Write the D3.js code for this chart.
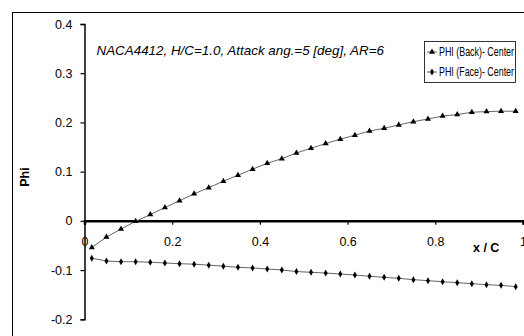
<!DOCTYPE html>
<html><head><meta charset="utf-8">
<script src="https://cdn.jsdelivr.net/npm/d3@7"></script>
<style>
html,body{margin:0;padding:0;background:#fff;}
svg{display:block;font-family:"Liberation Sans",Arial,sans-serif;}
</style></head>
<body><svg id="c" width="524" height="336"></svg>
<script>
const xPos = d3.range(30).map(i => (i + 0.5) / 30);
const phiBack = [-0.054,-0.033,-0.0165,-0.001,0.0127,0.027,0.041,0.055,0.0675,0.0805,
  0.0927,0.105,0.117,0.1264,0.138,0.1476,0.157,0.166,0.174,0.1827,
  0.188,0.195,0.2016,0.207,0.213,0.216,0.2207,0.222,0.2228,0.2228];
const phiFace = [-0.076,-0.0815,-0.083,-0.083,-0.084,-0.0856,-0.087,-0.088,-0.090,-0.092,
  -0.0943,-0.0957,-0.0977,-0.0998,-0.103,-0.1045,-0.106,-0.108,-0.110,-0.1126,
  -0.1147,-0.1167,-0.1195,-0.1215,-0.1236,-0.1256,-0.1276,-0.1297,-0.131,-0.1337];
const xTicks = [0,0.2,0.4,0.6,0.8,1];
const xTickLabels = ["0","0.2","0.4","0.6","0.8","1"];
const yTicks = [0.4,0.3,0.2,0.1,0,-0.1,-0.2];
const yTickLabels = ["0.4","0.3","0.2","0.1","0","-0.1","-0.2"];
const seriesNames = ["PHI (Back)- Center","PHI (Face)- Center"];
const title = "NACA4412, H/C=1.0, Attack ang.=5 [deg], AR=6";

const svg = d3.select("#c");
svg.append("rect").attr("x",12.5).attr("y",12.5).attr("width",600).attr("height",400)
  .attr("fill","#fff").attr("stroke","#000").attr("stroke-width",1);

const x = d3.scaleLinear().domain([0,1]).range([84.5,523]);
const y = d3.scaleLinear().domain([-0.2,0.4]).range([319.3,24]);

// Y axis
const ya = svg.append("g").attr("transform","translate(84.5,0)")
  .call(d3.axisLeft(y).tickValues(yTicks).tickSize(4).tickPadding(8)
    .tickFormat((d,i)=>yTickLabels[i]));
ya.select(".domain").attr("stroke","#000").attr("stroke-width",1.5);
ya.selectAll(".tick line").attr("stroke","#000").attr("stroke-width",1.2);
ya.selectAll(".tick text").attr("font-size","12.5px").attr("fill","#000")
  .attr("font-family","'Liberation Sans',Arial,sans-serif");

// X axis at y=0
const xa = svg.append("g").attr("transform",`translate(0,${y(0)})`)
  .call(d3.axisBottom(x).tickValues(xTicks).tickSize(4).tickPadding(12)
    .tickFormat((d,i)=>xTickLabels[i]));
xa.select(".domain").attr("stroke","#000").attr("stroke-width",2.5);
xa.selectAll(".tick line").attr("stroke","#000").attr("stroke-width",1.2);
xa.selectAll(".tick text").attr("font-size","12.5px").attr("fill","#000")
  .attr("font-family","'Liberation Sans',Arial,sans-serif");

// Lines
const line = d3.line().x((d,i)=>x(xPos[i])).y(d=>y(d));
svg.append("path").datum(phiBack).attr("d",line).attr("fill","none")
  .attr("stroke","#666").attr("stroke-width",1);
svg.append("path").datum(phiFace).attr("d",line).attr("fill","none")
  .attr("stroke","#666").attr("stroke-width",1);

const tri = d3.symbol().type(d3.symbolTriangle).size(16);
const dia = d3.symbol().type(d3.symbolDiamond).size(14);
svg.append("g").selectAll("path").data(phiBack).join("path")
  .attr("d",tri).attr("fill","#000")
  .attr("transform",(d,i)=>`translate(${x(xPos[i])},${y(d)})`);
svg.append("g").selectAll("path").data(phiFace).join("path")
  .attr("d",dia).attr("fill","#000")
  .attr("transform",(d,i)=>`translate(${x(xPos[i])},${y(d)})`);

// Title
svg.append("text").attr("x",96.5).attr("y",55).attr("font-size","13.4px")
  .attr("font-style","italic").attr("fill","#000").text(title);

// Axis titles
svg.append("text").attr("x",473).attr("y",251.7).attr("font-size","12.5px")
  .attr("font-weight","bold").attr("fill","#000").text("x / C");
svg.append("text").attr("transform","translate(29,177) rotate(-90)")
  .attr("text-anchor","middle").attr("font-size","12.5px")
  .attr("font-weight","bold").attr("fill","#000").text("Phi");

// Legend
const lg = svg.append("g");
lg.append("rect").attr("x",424.5).attr("y",41.5).attr("width",91).attr("height",41)
  .attr("fill","#fff").attr("stroke","#000").attr("stroke-width",0.8);
const rowsY = [52,72];
const syms = [tri, dia];
seriesNames.forEach((n,i)=>{
  lg.append("line").attr("x1",427).attr("x2",437).attr("y1",rowsY[i]).attr("y2",rowsY[i])
    .attr("stroke","#666").attr("stroke-width",1);
  lg.append("path").attr("d",syms[i]).attr("fill","#000")
    .attr("transform",`translate(432,${rowsY[i]})`);
  lg.append("text").attr("x",439).attr("y",rowsY[i]+4.3).attr("font-size","12px")
    .attr("textLength",75).attr("lengthAdjust","spacingAndGlyphs")
    .attr("fill","#000").text(n);
});
</script></body></html>
